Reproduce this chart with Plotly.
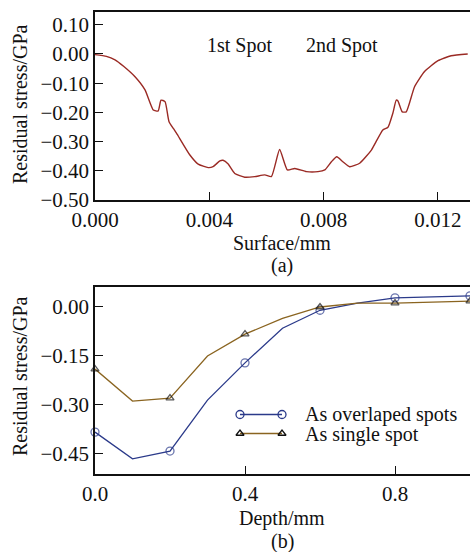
import plotly.graph_objects as go

# ---- Data (a): surface residual stress ----
surface_mm = [0.0, 0.0004, 0.0007, 0.001, 0.0014, 0.00175, 0.00204, 0.00221, 0.00231, 0.00245, 0.00259,
              0.00274, 0.00285, 0.00332, 0.00361, 0.00396, 0.00413, 0.00437, 0.00448,
              0.00466, 0.00489, 0.00524, 0.00559, 0.00594, 0.00617, 0.00646, 0.00673,
              0.00699, 0.0074, 0.0078, 0.00804, 0.00827, 0.00846, 0.00867, 0.00891,
              0.00926, 0.00967, 0.01007, 0.01025, 0.01042, 0.01054, 0.0106, 0.01075,
              0.01089, 0.01118, 0.01153, 0.0120, 0.01246, 0.01304]
surface_stress = [-0.002, -0.008, -0.02, -0.042, -0.078, -0.123, -0.192, -0.195, -0.158, -0.163, -0.232,
                  -0.255, -0.271, -0.346, -0.377, -0.389, -0.386, -0.366, -0.364,
                  -0.377, -0.409, -0.422, -0.420, -0.414, -0.420, -0.327, -0.397,
                  -0.392, -0.403, -0.403, -0.397, -0.369, -0.352, -0.369, -0.386,
                  -0.374, -0.329, -0.260, -0.251, -0.203, -0.158, -0.161, -0.198,
                  -0.198, -0.112, -0.060, -0.023, -0.006, 0.0]

# ---- Data (b): depth profiles ----
depth_mm = [0.0, 0.1, 0.2, 0.3, 0.4, 0.5, 0.6, 0.7, 0.8, 0.9, 1.0]
overlap_stress = [-0.383, -0.465, -0.441, -0.285, -0.171, -0.065, -0.010, 0.012, 0.028, 0.031, 0.034]
single_stress = [-0.190, -0.288, -0.279, -0.150, -0.083, -0.035, 0.000, 0.012, 0.012, 0.015, 0.018]
marker_every = [1, 0, 1, 0, 1, 0, 1, 0, 1, 0, 1]

legend_names = ["As overlaped spots", "As single spot"]
spot_labels = ["1st Spot", "2nd Spot"]

RED = "#9a2a24"
BLUE = "#2b3a8a"
BROWN = "#8a6420"
FONT = "Liberation Serif, Times New Roman, serif"
W, H = 470, 552

def px(x):
    return x / W

def py(y):
    return 1 - y / H

fig = go.Figure()

fig.add_trace(go.Scatter(x=surface_mm, y=surface_stress, mode="lines",
                         line=dict(color=RED, width=1.4, shape="spline", smoothing=0.5),
                         xaxis="x", yaxis="y", showlegend=False))

fig.add_trace(go.Scatter(x=depth_mm, y=overlap_stress, mode="lines+markers",
                         line=dict(color=BLUE, width=1.3),
                         marker=dict(symbol="circle-open", size=[8 * m for m in marker_every],
                                     color=BLUE, line=dict(width=1.3)),
                         xaxis="x2", yaxis="y2", showlegend=False, cliponaxis=False))
fig.add_trace(go.Scatter(x=depth_mm, y=single_stress, mode="lines+markers",
                         line=dict(color=BROWN, width=1.3),
                         marker=dict(symbol="triangle-up-open", size=[7 * m for m in marker_every],
                                     color="#111111", line=dict(width=1.3)),
                         xaxis="x2", yaxis="y2", showlegend=False, cliponaxis=False))

# custom legend samples (line with a marker at each end)
fig.add_trace(go.Scatter(x=[0, 1], y=[1, 1], mode="lines+markers",
                         line=dict(color=BLUE, width=1.3),
                         marker=dict(symbol="circle-open", size=8, color=BLUE, line=dict(width=1.3)),
                         xaxis="x3", yaxis="y3", showlegend=False, hoverinfo="skip", cliponaxis=False))
fig.add_trace(go.Scatter(x=[0, 1], y=[0, 0], mode="lines+markers",
                         line=dict(color=BROWN, width=1.3),
                         marker=dict(symbol="triangle-up-open", size=7, color="#111111", line=dict(width=1.3)),
                         xaxis="x3", yaxis="y3", showlegend=False, hoverinfo="skip", cliponaxis=False))

tickfont = dict(family=FONT, size=21, color="#111111")
axis_common = dict(showgrid=False, zeroline=False, ticks="inside", ticklen=8, tickwidth=1.3,
                   tickcolor="#111111", showline=True, linecolor="#111111", linewidth=1.6,
                   tickfont=tickfont, automargin=False)

fig.update_layout(
    template="none",
    font=dict(family=FONT, size=20, color="#111111"),
    width=W, height=H, margin=dict(l=0, r=0, t=0, b=0, pad=0), autosize=False,
    paper_bgcolor="white", plot_bgcolor="white",
    xaxis=dict(domain=[px(95), 1.0], range=[0, 0.01312], tickvals=[0, 0.004, 0.008, 0.012],
               ticktext=["0.000", "0.004", "0.008", "0.012"], mirror=True, anchor="y",
               **axis_common),
    yaxis=dict(domain=[py(200), py(12)], range=[-0.5, 0.1438],
               tickvals=[0.1, 0.0, -0.1, -0.2, -0.3, -0.4, -0.5],
               ticktext=["0.10", "0.00", "\u22120.10", "\u22120.20", "\u22120.30", "\u22120.40", "\u22120.50"],
               anchor="x", **axis_common),
    xaxis2=dict(domain=[px(95), 1.0], range=[0, 1.0], tickvals=[0, 0.4, 0.8],
                ticktext=["0.0", "0.4", "0.8"], mirror=True, anchor="y2", **axis_common),
    yaxis2=dict(domain=[py(474), py(287)], range=[-0.5113, 0.0612],
                tickvals=[0.0, -0.15, -0.3, -0.45],
                ticktext=["0.00", "\u22120.15", "\u22120.30", "\u22120.45"],
                anchor="x2", **axis_common),
    xaxis3=dict(domain=[px(240), px(282)], range=[0, 1], visible=False, anchor="y3", automargin=False),
    yaxis3=dict(domain=[py(443), py(405)], range=[-0.5, 1.5], visible=False, anchor="x3", automargin=False),
)

ann_font = dict(family=FONT, size=20, color="#111111")
annotations = [
    dict(text="Residual stress/GPa", x=px(20), y=py(104), textangle=-90),
    dict(text="Surface/mm", x=px(282), y=py(243)),
    dict(text="(a)", x=px(282), y=py(266)),
    dict(text="Residual stress/GPa", x=px(20), y=py(376), textangle=-90),
    dict(text="Depth/mm", x=px(282), y=py(518)),
    dict(text="(b)", x=px(282), y=py(541)),
    dict(text=spot_labels[0], x=px(240), y=py(45)),
    dict(text=spot_labels[1], x=px(342), y=py(45)),
    dict(text=legend_names[0], x=px(303), y=py(414), xanchor="left"),
    dict(text=legend_names[1], x=px(303), y=py(434), xanchor="left"),
]
for a in annotations:
    a.setdefault("xanchor", "center")
    a.update(xref="paper", yref="paper", yanchor="middle", showarrow=False, font=ann_font)
fig.update_layout(annotations=annotations)

fig.write_html("out.html", config={"displayModeBar": False},
               post_script="document.body.style.margin='0';document.body.style.overflow='hidden';")
